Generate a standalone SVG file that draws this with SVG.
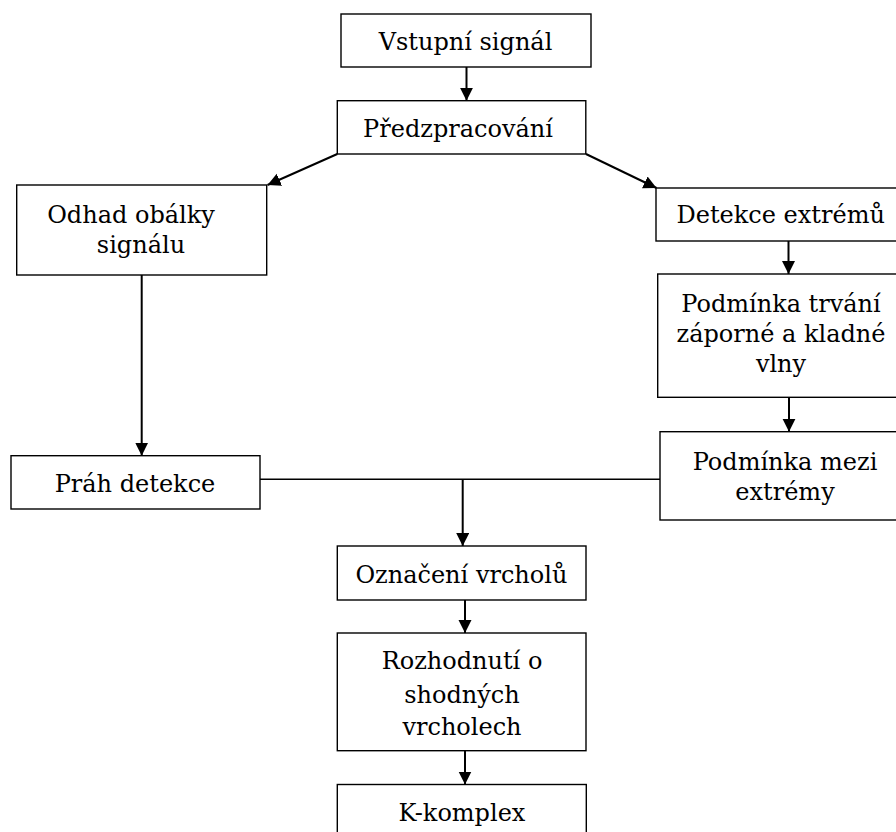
<svg xmlns="http://www.w3.org/2000/svg" width="896" height="832" viewBox="0 0 896 832">
<style>
.box{fill:#fff;stroke:#000;stroke-width:1.4}
.lbl{font-family:"DejaVu Serif","Liberation Serif",serif;font-size:24px;fill:#000;text-anchor:middle}
.con{stroke:#000;stroke-width:2;fill:none}
.thin{stroke:#000;stroke-width:1.4;fill:none}
</style>
<defs>
<marker id="ah" markerUnits="userSpaceOnUse" markerWidth="14" markerHeight="14" refX="13" refY="6.5" orient="auto">
<path d="M0,0 L13,6.5 L0,13 z" fill="#000"/>
</marker>
</defs>
<rect width="896" height="832" fill="#fff"/>
<g id="connectors">
<line class="con" x1="466.5" y1="67" x2="466.5" y2="100.7" marker-end="url(#ah)"/>
<line class="con" x1="337.3" y1="154" x2="267.5" y2="185" marker-end="url(#ah)"/>
<line class="con" x1="586" y1="154" x2="656.5" y2="188" marker-end="url(#ah)"/>
<line class="con" x1="141.7" y1="275" x2="141.7" y2="455.7" marker-end="url(#ah)"/>
<line class="con" x1="788.5" y1="241" x2="788.5" y2="274" marker-end="url(#ah)"/>
<line class="con" x1="789" y1="397.3" x2="789" y2="431.7" marker-end="url(#ah)"/>
<line class="thin" x1="260" y1="479.3" x2="660" y2="479.3"/>
<line class="con" x1="462.7" y1="479.3" x2="462.7" y2="546" marker-end="url(#ah)"/>
<line class="con" x1="465" y1="600" x2="465" y2="633" marker-end="url(#ah)"/>
<line class="con" x1="465" y1="750.7" x2="465" y2="784.5" marker-end="url(#ah)"/>
</g>
<g id="n-vstupni"><rect class="box" x="341" y="14" width="250" height="53"/><text class="lbl" x="465.5" y="49.5">Vstupní signál</text></g>
<g id="n-predzpracovani"><rect class="box" x="337.3" y="100.7" width="248.5" height="53.3"/><text class="lbl" x="458" y="136.5">Předzpracování</text></g>
<g id="n-odhad"><rect class="box" x="16.7" y="185" width="250" height="90"/><text class="lbl" x="131" y="223.3">Odhad obálky</text><text class="lbl" x="141" y="252.7">signálu</text></g>
<g id="n-detekce"><rect class="box" x="656" y="188" width="250" height="53"/><text class="lbl" x="780.7" y="223.3">Detekce extrémů</text></g>
<g id="n-podminka-trvani"><rect class="box" x="657.7" y="274" width="250" height="123.3"/><text class="lbl" x="781" y="311.5">Podmínka trvání</text><text class="lbl" x="781" y="341.5">záporné a kladné</text><text class="lbl" x="781" y="371.5">vlny</text></g>
<g id="n-podminka-mezi"><rect class="box" x="660" y="431.7" width="250" height="88.3"/><text class="lbl" x="785" y="469.5">Podmínka mezi</text><text class="lbl" x="785" y="499.5">extrémy</text></g>
<g id="n-prah"><rect class="box" x="11" y="455.7" width="249" height="53.3"/><text class="lbl" x="135" y="491.7">Práh detekce</text></g>
<g id="n-oznaceni"><rect class="box" x="337.3" y="546" width="248.7" height="54"/><text class="lbl" x="461.4" y="583.3">Označení vrcholů</text></g>
<g id="n-rozhodnuti"><rect class="box" x="337.3" y="633" width="248.7" height="117.7"/><text class="lbl" x="462" y="669.3">Rozhodnutí o</text><text class="lbl" x="462" y="702.5">shodných</text><text class="lbl" x="462" y="734.5">vrcholech</text></g>
<g id="n-kkomplex"><rect class="box" x="337.3" y="784.5" width="249" height="54"/><text class="lbl" x="462" y="820.5">K-komplex</text></g>
</svg>
